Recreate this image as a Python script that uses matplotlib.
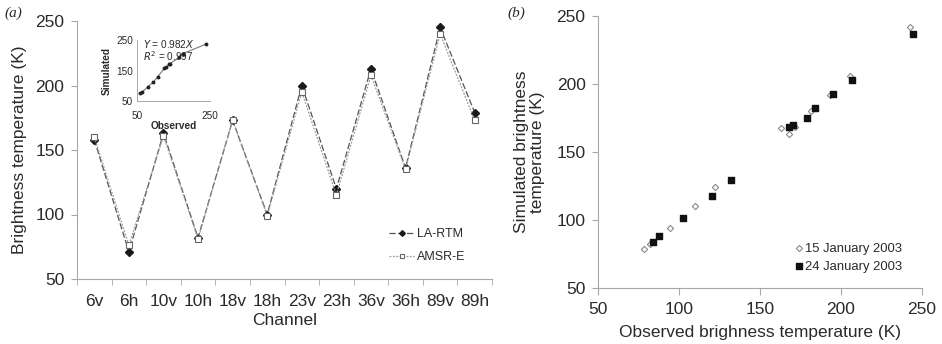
import numpy as np
import matplotlib
matplotlib.use("Agg")
import matplotlib.pyplot as plt

plt.rcParams['font.family'] = ['Liberation Sans', 'DejaVu Sans']

# panel (a) data
channels = ['6v', '6h', '10v', '10h', '18v', '18h', '23v', '23h', '36v', '36h', '89v', '89h']
la_rtm = [158, 71, 163, 82, 173, 100, 200, 120, 213, 136, 245, 179]
amsr_e = [160, 76, 161, 81, 173, 99, 195, 115, 208, 135, 240, 173]

# inset data (observed vs simulated)
inset_obs = [57, 63, 80, 95, 107, 125, 130, 137, 140, 165, 175, 240]
inset_sim = [75, 78, 97, 112, 130, 157, 160, 170, 172, 193, 205, 237]

# panel (b) data
obs_15 = [78.4, 82.1, 94.5, 110, 122.3, 163, 167.6, 171.3, 181.4, 193, 205.7, 242.8]
sim_15 = [78.5, 82, 94.3, 110, 124, 167.9, 163.5, 168.6, 180.4, 191.9, 205.9, 241.7]
obs_24 = [84, 87.7, 102.7, 120.6, 132.4, 167.6, 170.3, 179.3, 183.7, 195, 206.7, 244.3]
sim_24 = [84, 88.2, 101.7, 117.4, 129.4, 168.2, 170.1, 175.2, 182.6, 192.9, 202.9, 236.5]

W, H = 942, 344
fig = plt.figure(figsize=(W / 100, H / 100), dpi=100)

txt = '#2a2a2a'
spine = '#a8a8a8'
fs = 12.5


def px(l, t, r, b):
    return [l / W, 1 - b / H, (r - l) / W, (b - t) / H]


def clean(a, lw=0.8):
    for s in ['top', 'right']:
        a.spines[s].set_visible(False)
    for s in ['left', 'bottom']:
        a.spines[s].set_color(spine)
        a.spines[s].set_linewidth(lw)


# ---- panel (a)
ax = fig.add_axes(px(77, 21, 492, 279))
x = np.arange(len(channels))
ax.plot(x, la_rtm, color='#555555', ls=(0, (5, 2)), lw=0.9,
        marker='D', ms=3.6, mfc='#1a1a1a', mec='#1a1a1a', label='LA-RTM')
ax.plot(x, amsr_e, color='#9a9a9a', ls=(0, (1.5, 1.2)), lw=0.9,
        marker='s', ms=3.8, mfc='white', mec='#666666', mew=0.8, label='AMSR-E')
ax.set_xlim(-0.5, len(channels) - 0.5)
ax.set_ylim(50, 250)
ax.set_yticks([50, 100, 150, 200, 250])
ax.set_xticks(x)
ax.set_xticklabels(channels)
ax.set_xticks(np.arange(-0.5, len(channels), 1), minor=True)
ax.tick_params(axis='x', which='major', length=0, pad=11, labelsize=fs, colors=txt)
ax.tick_params(axis='x', which='minor', length=4, color=spine, direction='out')
ax.tick_params(axis='y', length=4, color=spine, labelsize=fs, labelcolor=txt, pad=5)
clean(ax)
ax.set_xlabel('Channel', fontsize=fs, color=txt, labelpad=3)
ax.set_ylabel('Brightness temperature (K)', fontsize=fs, color=txt, labelpad=6)
leg = ax.legend(loc='upper left', bbox_to_anchor=(378 / W, 1 - 217 / H),
                bbox_transform=fig.transFigure, frameon=False,
                fontsize=9, handlelength=2.0, handletextpad=0.2, labelspacing=0.85,
                markerscale=0.8)
for t in leg.get_texts():
    t.set_color(txt)

# inset
ins = fig.add_axes(px(137, 40, 210, 101))
ins.plot(inset_obs, inset_sim, color='#777777', lw=0.8, marker='o', ms=1.8,
         mfc='#222222', mec='#222222')
ins.set_xlim(50, 250)
ins.set_ylim(50, 250)
ins.set_xticks([50, 250])
ins.set_yticks([50, 150, 250])
ins.tick_params(axis='x', length=0, labelsize=7.2, colors=txt, pad=7)
ins.tick_params(axis='y', length=0, labelsize=7.2, colors=txt, pad=3)
clean(ins, 0.7)
ins.set_xlabel('Observed', fontsize=7.2, fontweight='bold', color=txt, labelpad=0)
ins.set_ylabel('Simulated', fontsize=7.2, fontweight='bold', color=txt, labelpad=3)
ins.text(0.08, 1.04, '$Y$ = 0.982$X$\n$R^2$ = 0.997', transform=ins.transAxes,
         fontsize=7.2, color=txt, va='top', ha='left', linespacing=0.95)

fig.text(4 / W, 1 - 13 / H, '(a)', family='Liberation Serif', style='italic',
         fontsize=11, color=txt, va='center')

# ---- panel (b)
bx = fig.add_axes(px(598, 16, 922, 288))
bx.scatter(obs_15, sim_15, marker='D', s=10, facecolors='white',
           edgecolors='#8a8a8a', linewidths=0.8, label='15 January 2003', zorder=2)
bx.scatter(obs_24, sim_24, marker='s', s=15, color='#111111',
           label='24 January 2003', zorder=3)
bx.set_xlim(50, 250)
bx.set_ylim(50, 250)
bx.set_xticks([50, 100, 150, 200, 250])
bx.set_yticks([50, 100, 150, 200, 250])
bx.tick_params(axis='x', length=5, color=spine, labelsize=fs, labelcolor=txt, pad=5)
bx.tick_params(axis='y', length=4, color=spine, labelsize=fs, labelcolor=txt, pad=5)
clean(bx)
bx.set_xlabel('Observed brighness temperature (K)', fontsize=fs, color=txt, labelpad=6)
bx.set_ylabel('Simulated brightness\ntemperature (K)', fontsize=fs, color=txt,
              labelpad=8, linespacing=1.1)
leg2 = bx.legend(loc='upper left', bbox_to_anchor=(783 / W, 1 - 231 / H),
                 bbox_transform=fig.transFigure, frameon=False,
                 fontsize=9.4, handlelength=0.6, handletextpad=0.2, labelspacing=0.45)
for t in leg2.get_texts():
    t.set_color(txt)

fig.text(507 / W, 1 - 13 / H, '(b)', family='Liberation Serif', style='italic',
         fontsize=11, color=txt, va='center')

fig.savefig('out.png', dpi=100)
